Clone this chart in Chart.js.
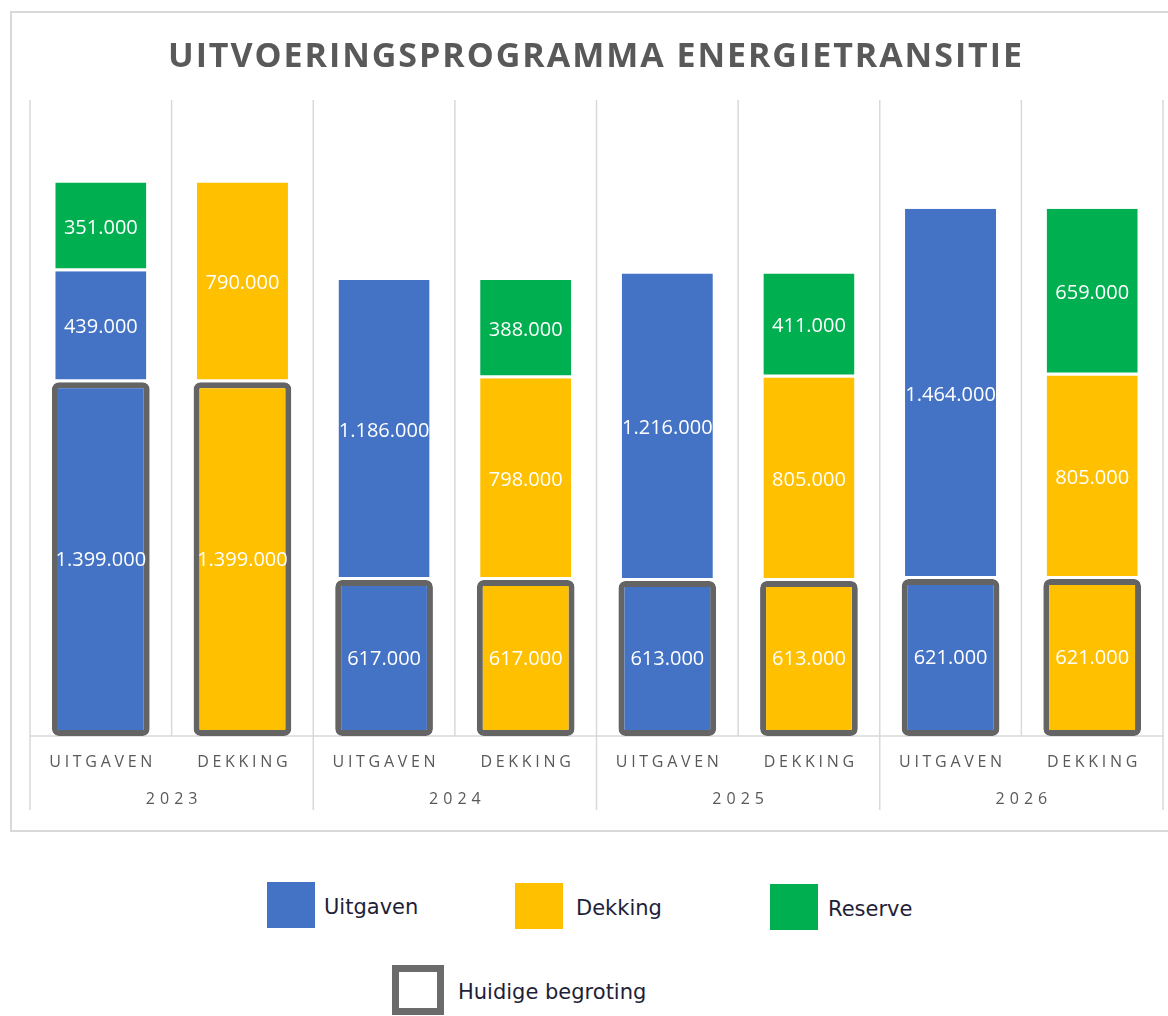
<!DOCTYPE html>
<html><head><meta charset="utf-8">
<script src="https://cdn.jsdelivr.net/npm/chart.js@4/dist/chart.umd.min.js"></script>
<style>
html,body{margin:0;padding:0;background:#fff;overflow:hidden;width:1168px;height:1016px;}
#box{position:absolute;left:10px;top:11px;width:1180px;height:817px;border:2px solid #d9d9d9;}
#c{position:absolute;left:0;top:0;}
.sw{position:absolute;box-sizing:border-box;}
.lt{position:absolute;font-family:"DejaVu Sans";font-size:21px;color:#1e1e38;line-height:24px;white-space:nowrap;}
</style></head><body>
<div id="box"></div>
<canvas id="c" width="1168" height="840"></canvas>
<div id="legend"></div>
<script>
// ---- data ----
const categories = ['UITGAVEN','DEKKING','UITGAVEN','DEKKING','UITGAVEN','DEKKING','UITGAVEN','DEKKING'];
const years = ['2023','2024','2025','2026'];
const huidigeBegroting = [1399000,1399000,617000,617000,613000,613000,621000,621000];
const uitgavenExtra = [439000,null,1186000,null,1216000,null,1464000,null];
const dekkingExtra = [null,790000,null,798000,null,805000,null,805000];
const reserve = [351000,null,null,388000,null,411000,null,659000];
const chartTitle = 'UITVOERINGSPROGRAMMA ENERGIETRANSITIE';
const legendNames = ['Uitgaven','Dekking','Reserve','Huidige begroting'];

const BLUE='#4472C4', YELLOW='#FFC000', GREEN='#00B050', OUTLINE='#646464', GRID='#d9d9d9', AXIS_TXT='#595959';

const baseColors = categories.map((c,i)=> i%2===0 ? BLUE : YELLOW);
const fmt = v => String(v).replace(/\B(?=(\d{3})+(?!\d))/g,'.');

function spacedText(ctx, text, cx, y, spacing){
  const ws = [...text].map(ch=>ctx.measureText(ch).width);
  const total = ws.reduce((a,b)=>a+b,0) + spacing*(ws.length-1);
  let xx = cx - total/2;
  ctx.textAlign='left';
  [...text].forEach((ch,i)=>{ ctx.fillText(ch, xx, y); xx += ws[i] + spacing; });
}

const deco = {
  id:'deco',
  beforeDatasetsDraw(chart){
    const {ctx, chartArea:a, scales:{x}} = chart;
    const n = categories.length;
    const bound = i => i===0 ? a.left : (i===n ? a.right : (x.getPixelForValue(i-1)+x.getPixelForValue(i))/2);
    ctx.save();
    ctx.strokeStyle=GRID; ctx.lineWidth=1.5;
    for(let i=0;i<=n;i++){
      const px = bound(i);
      ctx.beginPath(); ctx.moveTo(px, a.top); ctx.lineTo(px, i%2===0 ? a.bottom+74 : a.bottom); ctx.stroke();
    }
    ctx.beginPath(); ctx.moveTo(a.left, a.bottom); ctx.lineTo(a.right, a.bottom); ctx.stroke();
    // axis labels
    ctx.fillStyle=AXIS_TXT; ctx.textBaseline='alphabetic';
    ctx.font='16px "Open Sans"';
    categories.forEach((c,i)=> spacedText(ctx, c, x.getPixelForValue(i), a.bottom+31, 3.7));
    years.forEach((yv,j)=> spacedText(ctx, yv, (bound(2*j)+bound(2*j+2))/2, a.bottom+68, 5));
    // title
    ctx.fillStyle='#595959';
    ctx.font='bold 34px "Open Sans"';
    const chars=[...chartTitle];
    const nat = chars.reduce((s,ch)=>s+ctx.measureText(ch).width,0);
    const sp = (854-nat)/(chars.length-1);
    spacedText(ctx, chartTitle, 595, 67, sp);
    ctx.restore();
  },
  afterDatasetsDraw(chart){
    const {ctx} = chart;
    ctx.save();
    ctx.fillStyle='#ffffff'; ctx.font='20px "Open Sans"';
    ctx.textAlign='center'; ctx.textBaseline='middle';
    chart.data.datasets.forEach((ds,di)=>{
      const meta = chart.getDatasetMeta(di);
      meta.data.forEach((el,i)=>{
        const v = ds.data[i];
        if(v===null || v===undefined) return;
        ctx.fillText(fmt(v), el.x, (el.y+el.base)/2 + 1);
      });
    });
    ctx.restore();
  }
};

const segBorder = {top:0,left:0,right:0,bottom:3};
new Chart(document.getElementById('c'), {
  type:'bar',
  data:{
    labels: categories.map((c,i)=>c+' '+years[Math.floor(i/2)]),
    datasets:[
      {label:legendNames[3], data:huidigeBegroting, backgroundColor:baseColors, borderColor:OUTLINE, borderWidth:6,
       borderRadius:{topLeft:7,topRight:7,bottomLeft:7,bottomRight:7}, borderSkipped:false, barPercentage:0.69, categoryPercentage:1},
      {label:legendNames[0], data:uitgavenExtra, backgroundColor:BLUE, borderColor:'#ffffff', borderWidth:segBorder, borderSkipped:false, barPercentage:0.643, categoryPercentage:1},
      {label:legendNames[1], data:dekkingExtra, backgroundColor:YELLOW, borderColor:'#ffffff', borderWidth:segBorder, borderSkipped:false, barPercentage:0.643, categoryPercentage:1},
      {label:legendNames[2], data:reserve, backgroundColor:GREEN, borderColor:'#ffffff', borderWidth:segBorder, borderSkipped:false, barPercentage:0.643, categoryPercentage:1}
    ]
  },
  options:{
    responsive:false, animation:false, devicePixelRatio:1,
    layout:{padding:{left:30,right:5,top:100,bottom:104}},
    plugins:{legend:{display:false}, tooltip:{enabled:false}, title:{display:false}},
    scales:{
      x:{stacked:true, display:false},
      y:{stacked:true, display:false, min:0, max:2515000}
    }
  },
  plugins:[deco]
});

// HTML legend
const lg = document.getElementById('legend');
const items = [
  {name:legendNames[0], color:BLUE, sx:267, sy:882, tx:324},
  {name:legendNames[1], color:YELLOW, sx:515, sy:883, tx:576},
  {name:legendNames[2], color:GREEN, sx:770, sy:884, tx:828},
];
items.forEach(it=>{
  const s=document.createElement('div'); s.className='sw';
  s.style.cssText=`left:${it.sx}px;top:${it.sy}px;width:48px;height:46px;background:${it.color}`;
  lg.appendChild(s);
  const t=document.createElement('div'); t.className='lt'; t.textContent=it.name;
  t.style.left=it.tx+'px'; t.style.top=(it.sy+13)+'px';
  lg.appendChild(t);
});
const hs=document.createElement('div'); hs.className='sw';
hs.style.cssText='left:392px;top:965px;width:52px;height:50px;border:7px solid #6b6b6b;background:#fff';
lg.appendChild(hs);
const ht=document.createElement('div'); ht.className='lt'; ht.textContent=legendNames[3];
ht.style.left='458px'; ht.style.top='980px';
lg.appendChild(ht);
</script>
</body></html>
